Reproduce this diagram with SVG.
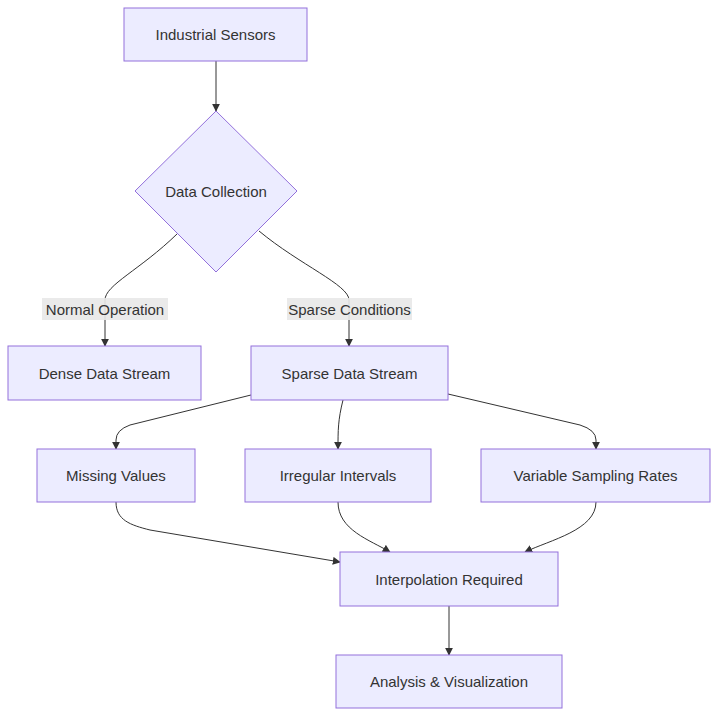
<svg xmlns="http://www.w3.org/2000/svg" width="726" height="725" viewBox="0 0 726 725">
<style>
.n{fill:#ECECFF;stroke:#9370DB;stroke-width:1}
.t{font-family:"Liberation Sans",Arial,sans-serif;font-size:15px;fill:#333;text-anchor:middle;dominant-baseline:central}
.e{fill:none;stroke:#333;stroke-width:1}
.lb{fill:#e8e8e8;opacity:0.9}
</style>
<defs><marker id="a" viewBox="0 0 10 10" refX="9" refY="5" markerWidth="8" markerHeight="8" orient="auto"><path d="M0,0L10,5L0,10z" fill="#333"/></marker></defs>
<rect width="726" height="725" fill="#fff"/>
<g id="edges">
<path class="e" marker-end="url(#a)" d="M216,61L216,111"/>
<path class="e" marker-end="url(#a)" d="M177,234C140,270 105,285 105,300L105,346"/>
<path class="e" marker-end="url(#a)" d="M259,231C300,265 349,285 349,300L349,346"/>
<path class="e" marker-end="url(#a)" d="M251,395L130,425Q116,430 116,440L116,449"/>
<path class="e" marker-end="url(#a)" d="M343,400C338,420 338,430 338,449"/>
<path class="e" marker-end="url(#a)" d="M448,394L580,425Q596,430 596,440L596,449"/>
<path class="e" marker-end="url(#a)" d="M116,502C116,520 130,525 150,530L340,562"/>
<path class="e" marker-end="url(#a)" d="M338,502C338,530 370,540 390,552"/>
<path class="e" marker-end="url(#a)" d="M596,502C596,530 550,540 525,552"/>
<path class="e" marker-end="url(#a)" d="M449,606L449,655"/>
<rect class="lb" x="42" y="298" width="126" height="22"/><text class="t" x="105" y="309">Normal Operation</text>
<rect class="lb" x="287" y="298" width="125" height="22"/><text class="t" x="349.500" y="309">Sparse Conditions</text>
</g>
<g id="sensors"><rect class="n" x="124" y="8" width="183" height="53"/><text class="t" x="215.500" y="34.500">Industrial Sensors</text></g>
<g id="collection"><polygon class="n" points="216,111 297,191 216,272 135,191"/><text class="t" x="216" y="191">Data Collection</text></g>
<g id="dense"><rect class="n" x="8" y="346" width="193" height="54"/><text class="t" x="104.500" y="373">Dense Data Stream</text></g>
<g id="sparse"><rect class="n" x="251" y="346" width="197" height="54"/><text class="t" x="349.500" y="373">Sparse Data Stream</text></g>
<g id="missing"><rect class="n" x="37" y="449" width="158" height="53"/><text class="t" x="116" y="475.500">Missing Values</text></g>
<g id="irregular"><rect class="n" x="245" y="449" width="186" height="53"/><text class="t" x="338" y="475.500">Irregular Intervals</text></g>
<g id="variable"><rect class="n" x="481" y="449" width="229" height="53"/><text class="t" x="595.500" y="475.500">Variable Sampling Rates</text></g>
<g id="interp"><rect class="n" x="340" y="552" width="218" height="54"/><text class="t" x="449" y="579">Interpolation Required</text></g>
<g id="analysis"><rect class="n" x="336" y="655" width="226" height="53"/><text class="t" x="449" y="681.500">Analysis &amp; Visualization</text></g>
</svg>
